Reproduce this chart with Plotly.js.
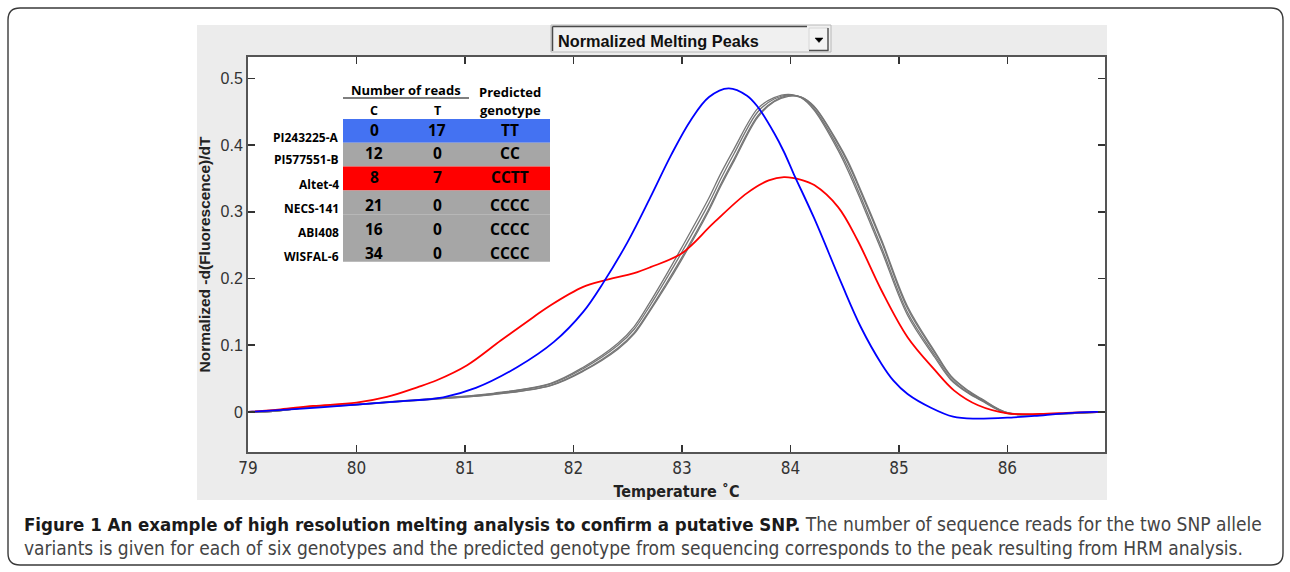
<!DOCTYPE html>
<html>
<head>
<meta charset="utf-8">
<script src="https://cdn.plot.ly/plotly-3.0.1.min.js"></script>
<style>html,body{margin:0;padding:0;background:#fff;}#chart{width:1290px;height:572px;}</style>
</head>
<body>
<div id="chart"></div>
<script>
// ---------------- data ----------------
const xTicks = [79, 80, 81, 82, 83, 84, 85, 86];
const yTicks = [0, 0.1, 0.2, 0.3, 0.4, 0.5];
const yTickText = ['0', '0.1', '0.2', '0.3', '0.4', '0.5'];

// blue: PI243225-A (TT)
const tempBlue = [79.0, 79.5, 80.0, 80.4, 80.8, 81.1, 81.48, 81.82, 82.09, 82.28, 82.5, 82.71, 82.9, 83.08, 83.25, 83.43, 83.6, 83.7, 83.85, 83.94, 84.03, 84.22, 84.47, 84.65, 84.84, 84.95, 85.08, 85.3, 85.5, 85.7, 86.06, 86.25, 86.53, 86.8, 86.9];
const valBlue = [0, 0.005, 0.011, 0.016, 0.022, 0.036, 0.067, 0.105, 0.15, 0.195, 0.255, 0.322, 0.385, 0.437, 0.472, 0.485, 0.474, 0.457, 0.418, 0.39, 0.357, 0.29, 0.193, 0.127, 0.072, 0.047, 0.027, 0.006, -0.007, -0.01, -0.008, -0.006, -0.002, 0, 0];

// red: Altet-4 (CCTT)
const tempRed = [79.0, 79.3, 79.6, 80.0, 80.28, 80.56, 80.74, 81.02, 81.33, 81.63, 81.79, 82.09, 82.28, 82.56, 82.71, 83.0, 83.29, 83.6, 83.8, 83.94, 84.1, 84.22, 84.44, 84.62, 84.84, 85.08, 85.33, 85.51, 85.73, 86.0, 86.3, 86.6, 86.9];
const valRed = [0, 0.004, 0.009, 0.014, 0.0225, 0.037, 0.0475, 0.07, 0.107, 0.142, 0.16, 0.1875, 0.197, 0.208, 0.217, 0.238, 0.283, 0.328, 0.347, 0.352, 0.348, 0.34, 0.307, 0.257, 0.182, 0.112, 0.063, 0.032, 0.01, -0.002, -0.003, -0.001, 0];

// grey: CC and CCCC genotypes
const tempGray = [79.0, 79.23, 79.57, 80.0, 80.4, 80.77, 81.26, 81.79, 82.09, 82.41, 82.56, 82.7, 82.85, 82.99, 83.24, 83.36, 83.48, 83.7, 83.85, 83.98, 84.1, 84.22, 84.44, 84.53, 84.65, 84.84, 85.08, 85.33, 85.48, 85.64, 85.76, 86.0, 86.43, 86.9];
const valPI577551 = [0, 0.001, 0.0075, 0.0115, 0.0165, 0.021, 0.028, 0.043, 0.067, 0.103, 0.128, 0.163, 0.204, 0.244, 0.318, 0.358, 0.394, 0.455, 0.471, 0.476, 0.471, 0.452, 0.392, 0.362, 0.317, 0.242, 0.145, 0.082, 0.048, 0.028, 0.017, -0.002, -0.003, 0];
const valABI408 = [0, 0.001, 0.0072, 0.0112, 0.0162, 0.0205, 0.0275, 0.042, 0.065, 0.1, 0.124, 0.158, 0.198, 0.237, 0.31, 0.35, 0.387, 0.45, 0.469, 0.475, 0.471, 0.454, 0.396, 0.367, 0.322, 0.247, 0.149, 0.085, 0.05, 0.029, 0.018, -0.002, -0.003, 0];
const valNECS141 = [0, 0.001, 0.007, 0.011, 0.0158, 0.02, 0.0265, 0.04, 0.062, 0.096, 0.119, 0.152, 0.191, 0.229, 0.302, 0.342, 0.379, 0.444, 0.466, 0.474, 0.472, 0.457, 0.401, 0.373, 0.329, 0.255, 0.155, 0.089, 0.053, 0.031, 0.019, -0.001, -0.003, 0];
const valWISFAL6 = [0, 0.001, 0.0068, 0.0108, 0.0155, 0.0198, 0.026, 0.0395, 0.061, 0.094, 0.117, 0.15, 0.188, 0.226, 0.299, 0.339, 0.376, 0.442, 0.465, 0.473, 0.472, 0.458, 0.403, 0.376, 0.332, 0.258, 0.158, 0.091, 0.054, 0.032, 0.02, -0.001, -0.003, 0];

// inset table
const genotypes = ['PI243225-A', 'PI577551-B', 'Altet-4', 'NECS-141', 'ABI408', 'WISFAL-6'];
const readsC = [0, 12, 8, 21, 16, 34];
const readsT = [17, 0, 7, 0, 0, 0];
const predicted = ['TT', 'CC', 'CCTT', 'CCCC', 'CCCC', 'CCCC'];
const rowColors = ['#4472f2', '#a6a6a6', '#ff0000', '#a6a6a6', '#a6a6a6', '#a6a6a6'];

const dropdownLabel = 'Normalized Melting Peaks';
const xTitle = 'Temperature \u02DAC';
const yTitle = 'Normalized -d(Fluorescence)/dT';
const captionBold = 'Figure 1 An example of high resolution melting analysis to confirm a putative SNP.';
const captionRest1 = ' The number of sequence reads for the two SNP allele';
const captionLine2 = 'variants is given for each of six genotypes and the predicted genotype from sequencing corresponds to the peak resulting from HRM analysis.';

// ---------------- geometry helpers (pixels -> paper) ----------------
const PL = 248, PR = 1105, PT = 57, PB = 452;
const px = p => (p - PL) / (PR - PL);
const py = p => (PB - p) / (PB - PT);

function rectPx(x0, y0, x1, y1, fill, lineColor, lineWidth) {
  return {type: 'rect', xref: 'paper', yref: 'paper', layer: 'below',
    x0: px(x0), x1: px(x1), y0: py(y1), y1: py(y0),
    fillcolor: fill, line: {color: lineColor || 'rgba(0,0,0,0)', width: lineWidth || 0}};
}
function linePx(x0, y0, x1, y1, color, width, layer) {
  return {type: 'line', xref: 'paper', yref: 'paper', layer: layer || 'above',
    x0: px(x0), x1: px(x1), y0: py(y0), y1: py(y1), line: {color: color, width: width}};
}
function roundedPath(x0, y0, x1, y1, r) {
  const P = (a, b) => px(a) + ',' + py(b);
  return 'M' + P(x0 + r, y0) + ' L' + P(x1 - r, y0) + ' Q' + P(x1, y0) + ' ' + P(x1, y0 + r) +
    ' L' + P(x1, y1 - r) + ' Q' + P(x1, y1) + ' ' + P(x1 - r, y1) +
    ' L' + P(x0 + r, y1) + ' Q' + P(x0, y1) + ' ' + P(x0, y1 - r) +
    ' L' + P(x0, y0 + r) + ' Q' + P(x0, y0) + ' ' + P(x0 + r, y0) + ' Z';
}

// ---------------- traces ----------------
const grayStyle = {color: '#767676', width: 1.3, shape: 'spline', smoothing: 1.0};
const traces = [
  {x: tempGray, y: valPI577551, name: 'PI577551-B', mode: 'lines', line: grayStyle},
  {x: tempGray, y: valABI408, name: 'ABI408', mode: 'lines', line: grayStyle},
  {x: tempGray, y: valNECS141, name: 'NECS-141', mode: 'lines', line: grayStyle},
  {x: tempGray, y: valWISFAL6, name: 'WISFAL-6', mode: 'lines', line: grayStyle},
  {x: tempRed, y: valRed, name: 'Altet-4', mode: 'lines', line: {color: '#ff0000', width: 1.8, shape: 'spline', smoothing: 1.0}},
  {x: tempBlue, y: valBlue, name: 'PI243225-A', mode: 'lines', line: {color: '#0000ff', width: 1.8, shape: 'spline', smoothing: 1.0}}
];

// ---------------- shapes ----------------
const shapes = [];
shapes.push(rectPx(197, 25, 1107, 500, '#ececec'));
shapes.push(rectPx(PL, PT, PR, PB, '#ffffff'));
shapes.push({type: 'path', xref: 'paper', yref: 'paper', layer: 'below', path: roundedPath(8, 8, 1283, 565, 12),
  line: {color: '#3a3a3a', width: 1.4}, fillcolor: 'rgba(0,0,0,0)'});

// table rows
const rowTop = 119, rowH = 23.8;
rowColors.forEach((c, i) => {
  shapes.push(rectPx(343, rowTop + i * rowH, 550, rowTop + (i + 1) * rowH, c));
});
shapes.push(linePx(343, 98, 469, 98, '#555555', 1.3));

// dropdown widget
shapes.push(rectPx(551, 25, 831, 52, '#f0f0f0', '#b8b8b8', 1));
shapes.push(linePx(552.5, 26.5, 552.5, 51, '#4a4a4a', 1.5));
shapes.push(linePx(552.5, 26.5, 807, 26.5, '#4a4a4a', 1.5));
shapes.push(rectPx(809, 28, 828, 50, '#f4f4f4', '#d0d0d0', 0.8));
shapes.push(linePx(828, 28, 828, 50.5, '#505050', 1.4));
shapes.push(linePx(809, 50.5, 828.5, 50.5, '#505050', 1.4));
shapes.push({type: 'path', xref: 'paper', yref: 'paper', layer: 'above',
  path: 'M' + px(815) + ',' + py(38) + ' L' + px(823) + ',' + py(38) + ' L' + px(819) + ',' + py(42.5) + ' Z',
  fillcolor: '#000000', line: {color: '#000000', width: 0.5}});

// ---------------- annotations ----------------
const tableFont = 'Open Sans, Noto Sans, Arial, sans-serif';
const ann = [];
function addText(text, xPx, yPx, size, anchor, color, family) {
  ann.push({text: text, xref: 'paper', yref: 'paper', x: px(xPx), y: py(yPx), showarrow: false,
    xanchor: anchor || 'center', yanchor: 'middle',
    font: {family: family || tableFont, size: size, color: color || '#000000'}});
}
addText('<b>Number of reads</b>', 406, 90, 13);
addText('<b>C</b>', 374, 110, 12.5);
addText('<b>T</b>', 437, 110, 12.5);
addText('<b>Predicted</b>', 510, 92, 13);
addText('<b>genotype</b>', 510, 110.5, 13);
const labelY = [137, 159, 184, 208, 232, 256];
const valueY = [130, 153, 177, 205, 229, 253];
genotypes.forEach((g, i) => {
  addText('<b>' + g + '</b>', 341, labelY[i], 12, 'right');
  addText('<b>' + readsC[i] + '</b>', 374, valueY[i], 15.5);
  addText('<b>' + readsT[i] + '</b>', 437, valueY[i], 15.5);
  addText('<b>' + predicted[i] + '</b>', 510, valueY[i], 15.5);
});
addText('<b>' + dropdownLabel + '</b>', 556, 40.5, 16.3, 'left', '#111111', 'Liberation Sans, Arial, sans-serif');

// caption
const capFont = 'Liberation Sans Narrow, DejaVu Sans Condensed, Arial Narrow, sans-serif';
addText('<b><span style="color:#1a1a1a">' + captionBold + '</span></b><span style="color:#444444;font-size:19px">' + captionRest1 + '</span>', 22, 524, 18.5, 'left', '#444444', capFont);
addText(captionLine2, 22, 548, 19, 'left', '#444444', capFont);

// ---------------- layout ----------------
const narrow = 'Liberation Sans Narrow, DejaVu Sans Condensed, Arial Narrow, sans-serif';
const layout = {
  width: 1290, height: 572,
  margin: {l: PL, r: 1290 - PR, t: PT, b: 572 - PB, pad: 0},
  paper_bgcolor: '#ffffff', plot_bgcolor: 'rgba(0,0,0,0)',
  showlegend: false,
  xaxis: {
    range: [79, 86.9], tickvals: xTicks, ticktext: xTicks.map(String),
    ticks: 'inside', ticklen: 7, tickwidth: 1.5, tickcolor: '#333333',
    showline: true, linecolor: '#555555', linewidth: 2, mirror: 'ticks',
    showgrid: false, zeroline: false,
    tickfont: {family: narrow, size: 17, color: '#333333'},
    title: {text: '<b>' + xTitle + '</b>', standoff: 8,
      font: {family: narrow, size: 16, color: '#222222'}},
    automargin: false
  },
  yaxis: {
    range: [-0.06, 0.532], tickvals: yTicks, ticktext: yTickText,
    ticks: 'inside', ticklen: 7, tickwidth: 1.5, tickcolor: '#333333',
    showline: true, linecolor: '#555555', linewidth: 2, mirror: 'ticks',
    showgrid: false, zeroline: false,
    tickfont: {family: 'Liberation Sans, Arial, sans-serif', size: 16, color: '#333333'},
    title: {text: '<b>' + yTitle + '</b>', standoff: 6,
      font: {family: 'Liberation Sans, Arial, sans-serif', size: 15.5, color: '#222222'}},
    automargin: false
  },
  shapes: shapes,
  annotations: ann
};

Plotly.newPlot('chart', traces, layout, {displayModeBar: false, staticPlot: true});
</script>
</body>
</html>
